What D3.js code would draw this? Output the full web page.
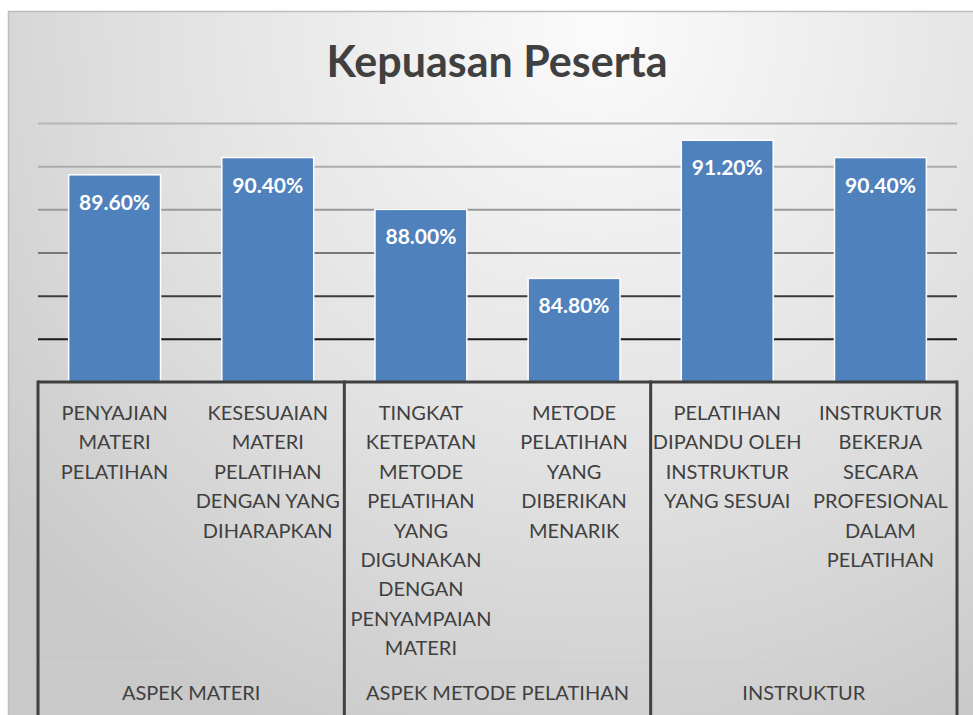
<!DOCTYPE html>
<html>
<head>
<meta charset="utf-8">
<script src="https://cdn.jsdelivr.net/npm/d3@7"></script>
<style>
  html, body { margin: 0; padding: 0; background: #fff; }
  svg { display: block; font-family: Lato, "Noto Sans", sans-serif; }
</style>
</head>
<body>
<div id="chart"></div>
<script>
/* kepuasan peserta - bar chart with two-level category axis */

const categories = ["c1", "c2", "c3", "c4", "c5", "c6"];
const values = [89.6, 90.4, 88.0, 84.8, 91.2, 90.4];   // percent
const categoryLines = [
    ["PENYAJIAN", "MATERI", "PELATIHAN"],
    ["KESESUAIAN", "MATERI", "PELATIHAN", "DENGAN YANG", "DIHARAPKAN"],
    ["TINGKAT", "KETEPATAN", "METODE", "PELATIHAN", "YANG", "DIGUNAKAN", "DENGAN", "PENYAMPAIAN", "MATERI"],
    ["METODE", "PELATIHAN", "YANG", "DIBERIKAN", "MENARIK"],
    ["PELATIHAN", "DIPANDU OLEH", "INSTRUKTUR", "YANG SESUAI"],
    ["INSTRUKTUR", "BEKERJA", "SECARA", "PROFESIONAL", "DALAM", "PELATIHAN"]
];
const groups = ["ASPEK MATERI", "ASPEK METODE PELATIHAN", "INSTRUKTUR"];
const groupSize = [2, 2, 2];
const gridTicks = [82, 84, 86, 88, 90, 92];
const title = "Kepuasan Peserta";

const width = 973,
      height = 715,
      margin = ({ top: 123, right: 16, bottom: 333, left: 38 });

let svg = d3.select("#chart")
    .append("svg")
    .attr("width", width)
    .attr("height", height)
    .attr("viewBox", [0, 0, width, height]);

let defs = svg.append("defs");

/* chart area background: light at top centre, greyer to the edges */
let bg = defs.append("radialGradient")
    .attr("id", "bg")
    .attr("gradientUnits", "userSpaceOnUse")
    .attr("cx", 600).attr("cy", 30).attr("r", 780);
bg.append("stop").attr("offset", "0%").attr("stop-color", "#fbfbfb");
bg.append("stop").attr("offset", "55%").attr("stop-color", "#e2e2e2");
bg.append("stop").attr("offset", "100%").attr("stop-color", "#c9c9c9");

let x = d3.scaleBand()
    .domain(categories)
    .range([margin.left, width - margin.right])
    .paddingInner(0.4)
    .paddingOuter(0.2);

let y = d3.scaleLinear()
    .domain([80, 92])
    .range([height - margin.bottom, margin.top]);

// gridlines fade from light grey at the top to near black at the bottom
let gridColor = d3.scaleLinear()
    .domain([92, 90, 88, 86, 84, 82])
    .range(["#b6b6b6", "#acacac", "#999999", "#777777", "#3c3c3c", "#1a1a1a"]);

svg.append("rect")
    .attr("x", 8.5).attr("y", 11.5)
    .attr("width", width)
    .attr("height", height)
    .attr("fill", "url(#bg)")
    .attr("stroke", "#bdbdbd")
    .attr("stroke-width", 1.5);

svg.append("text")
    .attr("x", 497)
    .attr("y", 77)
    .attr("text-anchor", "middle")
    .attr("font-size", 43)
    .attr("font-weight", "bold")
    .attr("fill", "#404040")
    .text(title);

const grid = g => g
    .attr("transform", `translate(${margin.left}, 0)`)
    .call(d3.axisLeft(y).tickValues(gridTicks).tickSize(-(width - margin.right - margin.left)).tickFormat(""))
    .call(g => g.select(".domain").remove())
    .call(g => g.selectAll(".tick line")
        .attr("stroke", d => gridColor(d))
        .attr("stroke-width", 2));

svg.append("g").call(grid);

let bar = svg.selectAll(".bar")
    .data(values)
    .join("g")
    .attr("class", "bar");

bar.append("rect")
    .attr("fill", "#4f81bd")
    .attr("stroke", "#ffffff")
    .attr("stroke-width", 1.5)
    .attr("x", (d, i) => x(categories[i]))
    .attr("width", x.bandwidth())
    .attr("y", d => y(d))
    .attr("height", d => y(80) - y(d));

bar.append("text")
    .attr("x", (d, i) => x(categories[i]) + x.bandwidth() / 2)
    .attr("y", d => y(d) + 35)
    .attr("text-anchor", "middle")
    .attr("font-size", 21)
    .attr("font-weight", "bold")
    .attr("fill", "#ffffff")
    .text(d => d.toFixed(2) + "%");

/* category axis: baseline, group dividers, labels */
let axis = svg.append("g");
const base = y(80);
const step = x.step();

axis.append("line")
    .attr("x1", margin.left).attr("x2", width - margin.right)
    .attr("y1", base).attr("y2", base)
    .attr("stroke", "#404040")
    .attr("stroke-width", 3);

// faint line between the two label levels
axis.append("line")
    .attr("x1", margin.left).attr("x2", width - margin.right)
    .attr("y1", 663).attr("y2", 663)
    .attr("stroke", "#cfcfcf")
    .attr("stroke-width", 1);

let cum = 0;
let dividers = [margin.left];
groupSize.forEach(n => { cum += n; dividers.push(x(categories[cum - 1]) + x.bandwidth() + step * 0.2); });

axis.selectAll(".divider")
    .data(dividers)
    .join("line")
    .attr("class", "divider")
    .attr("x1", d => d).attr("x2", d => d)
    .attr("y1", base - 1.5).attr("y2", height)
    .attr("stroke", "#404040")
    .attr("stroke-width", 3);

axis.selectAll(".catlabel")
    .data(categoryLines)
    .join("text")
    .attr("class", "catlabel")
    .attr("text-anchor", "middle")
    .attr("font-size", 20)
    .attr("fill", "#404040")
    .each(function(lines, i) {
        d3.select(this).selectAll("tspan")
            .data(lines)
            .join("tspan")
            .attr("x", x(categories[i]) + x.bandwidth() / 2)
            .attr("y", (l, j) => 420 + j * 29.4)
            .text(l => l);
    });

axis.selectAll(".grouplabel")
    .data(groups)
    .join("text")
    .attr("class", "grouplabel")
    .attr("text-anchor", "middle")
    .attr("font-size", 20)
    .attr("fill", "#404040")
    .attr("x", (d, i) => (dividers[i] + dividers[i + 1]) / 2)
    .attr("y", 700)
    .text(d => d);
</script>
</body>
</html>
